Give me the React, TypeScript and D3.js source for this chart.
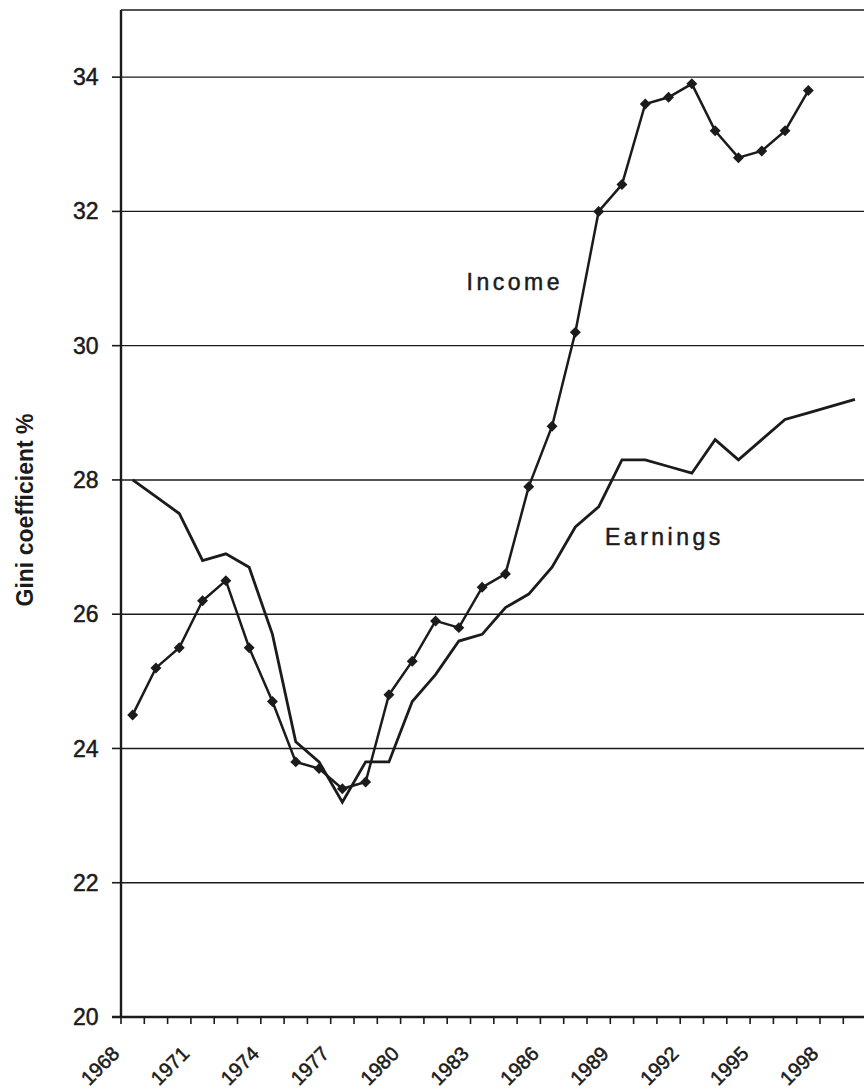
import React from 'react';
import * as d3 from 'd3';

// years on the category axis
const years = d3.range(1968, 2000).map(String);
const labelYears = ['1968', '1971', '1974', '1977', '1980', '1983', '1986', '1989', '1992', '1995', '1998'];
const yTicks = [20, 22, 24, 26, 28, 30, 32, 34];

// Gini coefficient %, income (1968-1997)
const income = [
  24.5, 25.2, 25.5, 26.2, 26.5, 25.5, 24.7, 23.8, 23.7, 23.4,
  23.5, 24.8, 25.3, 25.9, 25.8, 26.4, 26.6, 27.9, 28.8, 30.2,
  32.0, 32.4, 33.6, 33.7, 33.9, 33.2, 32.8, 32.9, 33.2, 33.8,
];

// Gini coefficient %, earnings (1968-1999)
const earnings = [
  28.0, 27.75, 27.5, 26.8, 26.9, 26.7, 25.7, 24.1, 23.8, 23.2,
  23.8, 23.8, 24.7, 25.1, 25.6, 25.7, 26.1, 26.3, 26.7, 27.3,
  27.6, 28.3, 28.3, 28.2, 28.1, 28.6, 28.3, 28.6, 28.9, 29.0,
  29.1, 29.2,
];

const W = 864;
const H = 1090;
const left = 121;
const top = 10;
const bottom = 1017;
const ink = '#1b1b1b';
const font = '"Liberation Sans", Arial, sans-serif';

const App = () => {
  const x = d3.scaleBand<string>().domain(years).range([left, left + 32 * 23.3]).padding(0);
  const y = d3.scaleLinear().domain([20, 35]).range([bottom, top]);
  const cx = (i: number) => (x(years[i]) as number) + x.bandwidth() / 2;

  const line = d3.line<number>()
    .x((_, i) => cx(i))
    .y(d => y(d));

  // square turned 45 degrees = the diamond marker
  const marker = d3.symbol().type(d3.symbolSquare).size(60)();

  const tickXs = d3.range(0, 33).map(i => left + i * x.bandwidth()).filter(v => v <= W);

  return (
    <div style={{ position: 'absolute', top: 0, left: 0 }}>
      <svg width={W} height={H} style={{ display: 'block', background: '#fff' }}>
        {/* grid */}
        {yTicks.slice(1).map(t => (
          <line key={t} x1={left} x2={W} y1={y(t)} y2={y(t)} stroke={ink} strokeWidth={1.4} />
        ))}
        <line x1={left} x2={W} y1={y(35)} y2={y(35)} stroke={ink} strokeWidth={1.4} />

        {/* y axis */}
        <line x1={left} x2={left} y1={top} y2={bottom + 1} stroke={ink} strokeWidth={2.4} />
        {yTicks.map(t => (
          <g key={t}>
            <line x1={left - 9} x2={left} y1={y(t)} y2={y(t)} stroke={ink} strokeWidth={1.6} />
            <text x={98.5} y={y(t)} dy="0.35em" textAnchor="end" fontFamily={font}
              fontSize={23} fill={ink} stroke={ink} strokeWidth={0.5}>{t}</text>
          </g>
        ))}
        <text transform={`translate(33, 510) rotate(-90)`} textAnchor="middle" fontFamily={font}
          fontSize={23} fontWeight="bold" fill={ink}>Gini coefficient %</text>

        {/* x axis */}
        <line x1={left - 9} x2={W} y1={bottom} y2={bottom} stroke={ink} strokeWidth={2.4} />
        {tickXs.map(v => (
          <line key={v} x1={v} x2={v} y1={bottom} y2={bottom + 7} stroke={ink} strokeWidth={1.6} />
        ))}
        {labelYears.map(yr => {
          const px = (x(yr) as number) + x.bandwidth() / 2 - 12;
          return (
            <text key={yr} transform={`translate(${px}, ${bottom + 38}) rotate(-45)`} textAnchor="end"
              fontFamily={font} fontSize={20} fill={ink} stroke={ink} strokeWidth={0.5}>{yr}</text>
          );
        })}

        {/* series */}
        <path d={line(earnings) as string} fill="none" stroke={ink} strokeWidth={2.8} />
        <path d={line(income) as string} fill="none" stroke={ink} strokeWidth={2.5} />
        {income.map((v, i) => (
          <path key={i} d={marker as string} transform={`translate(${cx(i)}, ${y(v)}) rotate(45)`} fill={ink} />
        ))}

        {/* series labels */}
        <text x={466.5} y={289.5} fontFamily={font} fontSize={23} letterSpacing={3.5} fill={ink}
          stroke={ink} strokeWidth={0.5}>Income</text>
        <text x={605} y={544.5} fontFamily={font} fontSize={23} letterSpacing={3.5} fill={ink}
          stroke={ink} strokeWidth={0.5}>Earnings</text>
      </svg>
    </div>
  );
};

export default App;
